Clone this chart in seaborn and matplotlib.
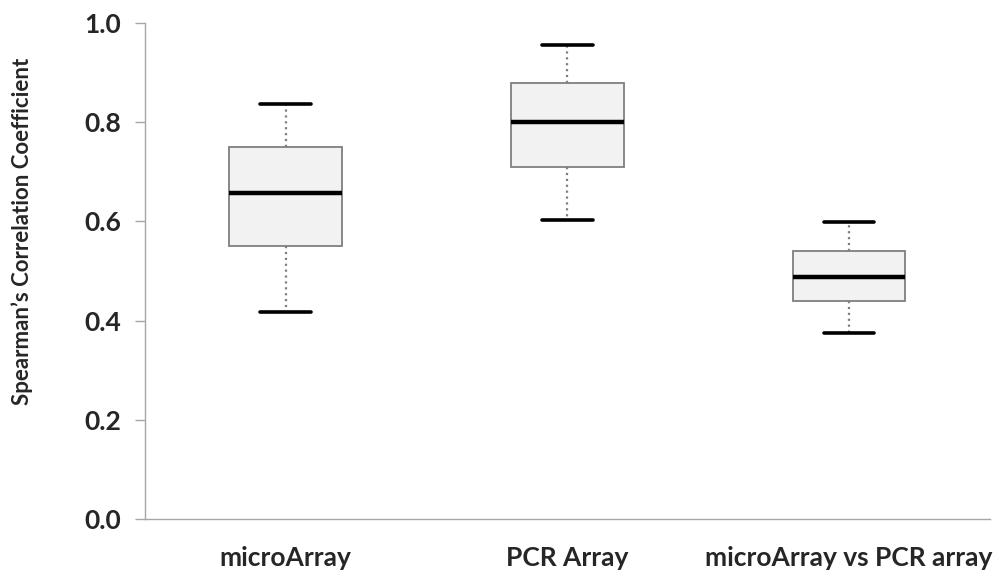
import pandas as pd
import numpy as np
import matplotlib
matplotlib.use('Agg')
import matplotlib.pyplot as plt
import seaborn as sns

# %% Values (five-number summary per group)
groups = ['microArray', 'PCR Array', 'microArray vs PCR array']
whisker_low = [0.417, 0.603, 0.375]
q1 = [0.550, 0.710, 0.440]
median = [0.657, 0.800, 0.488]
q3 = [0.750, 0.879, 0.540]
whisker_high = [0.837, 0.956, 0.598]
y_ticks = [0.0, 0.2, 0.4, 0.6, 0.8, 1.0]

# %% Long table for seaborn
rows = []
for i, g in enumerate(groups):
    for v in [whisker_low[i], q1[i], median[i], q3[i], whisker_high[i]]:
        rows.append({'group': g, 'rho': v})
df = pd.DataFrame(rows)

# %% Plot
sns.set_style('white')
plt.rcParams['font.family'] = ['Lato', 'DejaVu Sans']

fig = plt.figure(figsize=(10.06, 5.73), dpi=100)
ax = fig.add_axes([0.144, 0.094, 0.84, 0.866])

sns.boxplot(data=df, x='group', y='rho', order=groups, whis=(0, 100),
            width=0.4, color='#f2f2f2', linecolor='#7f7f7f', linewidth=1.3,
            showfliers=False, ax=ax,
            medianprops={'color': 'black', 'linewidth': 3.2},
            whiskerprops={'color': '#7f7f7f', 'linestyle': ':', 'linewidth': 1.6},
            capprops={'color': 'black', 'linewidth': 2.6},
            capwidths=0.18)

ax.set_ylim(0, 1.0)
ax.set_xlim(-0.5, 2.5)
ax.set_yticks(y_ticks)
ax.set_yticklabels([f'{t:.1f}' for t in y_ticks], fontsize=19, fontweight='bold')
ax.set_xticks(range(len(groups)))
ax.set_xticklabels(groups, fontsize=19, fontweight='bold')
ax.set_xticks([-0.5, 0.5, 1.5, 2.5], minor=True)
ax.tick_params(axis='x', which='major', length=0, pad=19)
ax.tick_params(axis='x', which='minor', length=7, color='#a6a6a6', width=1, direction='out')
ax.tick_params(axis='y', length=7, color='#a6a6a6', width=1, direction='out', left=True, pad=10)
ax.set_xlabel('')
ax.set_ylabel('Spearman\u2019s Correlation Coefficient', fontsize=16, fontweight='bold')
ax.yaxis.set_label_coords(-0.132, 0.58)

sns.despine(ax=ax)
for s in ['left', 'bottom']:
    ax.spines[s].set_color('#a6a6a6')
    ax.spines[s].set_linewidth(1)

fig.savefig('out.png', dpi=100)
